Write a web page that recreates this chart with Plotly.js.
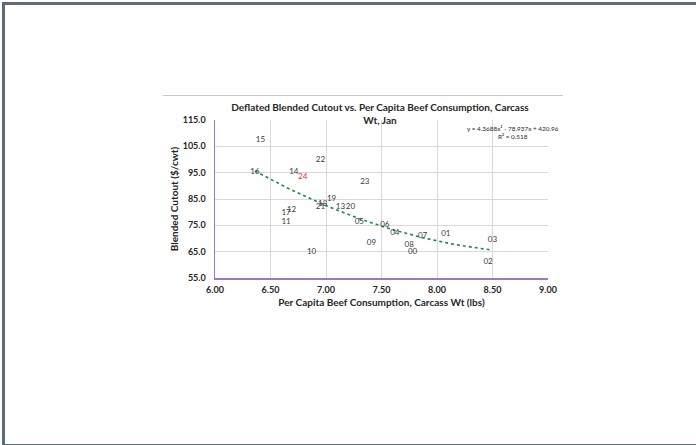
<!DOCTYPE html>
<html>
<head>
<meta charset="utf-8">
<script src="https://cdn.plot.ly/plotly-3.0.1.min.js"></script>
<style>
  html, body { margin: 0; padding: 0; background: #ffffff; }
  #wrap { position: relative; width: 696px; height: 445px; overflow: hidden; }
  #chart { position: absolute; left: 0; top: 0; width: 696px; height: 445px; }
  #frame { position: absolute; left: 2px; top: 2px; width: 700px; height: 439px;
           border-left: 3px solid #5d6a77; border-top: 3px solid #5d6a77; border-bottom: 2px solid #5d6a77;
           pointer-events: none; }
  #topline { position: absolute; left: 163px; top: 95px; width: 400px; height: 1px; background: #c9c9c9; pointer-events: none; }
</style>
</head>
<body>
<div id="wrap">
  <div id="chart"></div>
  <div id="frame"></div>
  <div id="topline"></div>
</div>
<script>
// Year labels (two-digit) for each point
const years = ["00","01","02","03","04","05","06","07","08","09","10","11","12","13","14","15","16","17","18","19","20","21","22","23","24"];
// Per capita beef consumption, carcass wt (lbs)
const consumption = [7.78, 8.08, 8.46, 8.50, 7.62, 7.30, 7.53, 7.87, 7.75, 7.41, 6.87, 6.64, 6.69, 7.13, 6.71, 6.41, 6.36, 6.64, 6.97, 7.05, 7.22, 6.95, 6.95, 7.35, 6.79];
// Deflated blended cutout ($/cwt)
const cutout = [64.9, 71.7, 61.1, 69.4, 72.1, 76.3, 75.1, 70.9, 67.5, 68.3, 64.9, 76.3, 80.8, 82.0, 95.3, 107.4, 95.3, 79.7, 83.1, 85.0, 82.0, 82.0, 99.8, 91.5, 93.4];
// Polynomial (order 2) trendline coefficients as shown on the chart
const trendA = 4.3688, trendB = -78.937, trendC = 420.96;
const trendLabel = "y = 4.3688x² - 78.937x + 420.96<br>R² = 0.518";
const xTicks = [6.0, 6.5, 7.0, 7.5, 8.0, 8.5, 9.0];
const yTicks = [55, 65, 75, 85, 95, 105, 115];

const labelColors = years.map(y => y === "24" ? "#dc2f2b" : "#3a3a3a");

// Trendline sampled across the data range
const xMin = Math.min(...consumption), xMax = Math.max(...consumption);
const trendX = [], trendY = [];
const steps = 60;
for (let i = 0; i <= steps; i++) {
  const x = xMin + (xMax - xMin) * i / steps;
  trendX.push(x);
  trendY.push(trendA * x * x + trendB * x + trendC);
}

const font = "Lato, 'Open Sans', 'Liberation Sans', sans-serif";

const traces = [
  {
    x: trendX, y: trendY, type: "scatter", mode: "lines",
    line: { color: "#1f8a4c", width: 1.6, dash: "dot" },
    hoverinfo: "skip", showlegend: false
  },
  {
    x: consumption, y: cutout, type: "scatter", mode: "text",
    text: years, textposition: "middle center",
    textfont: { family: font, size: 8, color: labelColors },
    showlegend: false
  }
];

const layout = {
  width: 696, height: 445, autosize: false,
  margin: { l: 215, r: 148, t: 120, b: 167, pad: 0 },
  paper_bgcolor: "rgba(0,0,0,0)", plot_bgcolor: "#ffffff",
  font: { family: font, color: "#262626" },
  showlegend: false,
  title: {
    text: "<b>Deflated Blended Cutout vs. Per Capita Beef Consumption, Carcass<br>Wt, Jan</b>",
    font: { family: font, size: 10, color: "#262626" },
    xref: "paper", x: (380 - 215) / 333, xanchor: "center",
    yref: "container", y: 1 - 111 / 445, yanchor: "middle"
  },
  xaxis: {
    range: [6, 9], tickvals: xTicks, ticktext: xTicks.map(v => v.toFixed(2)),
    showgrid: true, gridcolor: "#d9d9d9", gridwidth: 1,
    showline: true, linecolor: "#9b78c2", linewidth: 1.5,
    zeroline: false, ticks: "", ticklabelstandoff: 3,
    tickfont: { family: font, size: 9, color: "#262626", weight: "bold" },
    title: { text: "<b>Per Capita Beef Consumption, Carcass Wt (lbs)</b>", font: { family: font, size: 10, color: "#262626" }, standoff: 4 },
    automargin: false
  },
  yaxis: {
    range: [55, 115], tickvals: yTicks, ticktext: yTicks.map(v => v.toFixed(1)),
    showgrid: true, gridcolor: "#d9d9d9", gridwidth: 1,
    showline: true, linecolor: "#9b78c2", linewidth: 1.5,
    zeroline: false, ticks: "", ticklabelstandoff: 6,
    tickfont: { family: font, size: 9, color: "#262626", weight: "bold" },
    title: { text: "<b>Blended Cutout ($/cwt)</b>", font: { family: font, size: 10, color: "#262626" }, standoff: 2 },
    automargin: false
  },
  annotations: [
    {
      xref: "paper", yref: "paper", x: (513 - 215) / 333, y: (278 - 132.5) / 158,
      xanchor: "center", yanchor: "middle", showarrow: false, align: "center",
      text: trendLabel, font: { family: font, size: 6.4, color: "#262626" }
    }
  ]
};

Plotly.newPlot("chart", traces, layout, { displayModeBar: false, staticPlot: true });
</script>
</body>
</html>
